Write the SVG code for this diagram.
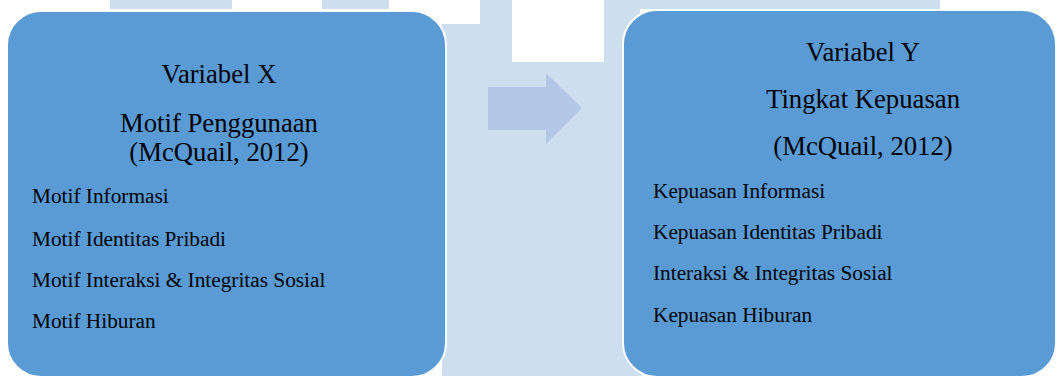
<svg xmlns="http://www.w3.org/2000/svg" width="1057" height="376" viewBox="0 0 1057 376">
  <style>
    .wm { fill: #cddfef; }
    .box { fill: #5b9bd5; stroke: #ffffff; stroke-width: 2; }
    .title { font-family: "Liberation Serif", "Times New Roman", serif; font-size: 26.7px; fill: #000000; text-anchor: middle; }
    .item { font-family: "Liberation Serif", "Times New Roman", serif; font-size: 21.3px; fill: #000000; }
    .arrow { fill: #b4c7e7; }
  </style>
  <rect width="1057" height="376" fill="#ffffff"/>
  <g id="watermark">
    <rect class="wm" x="110" y="0" width="122" height="9"/>
    <rect class="wm" x="322" y="0" width="67" height="9"/>
    <rect class="wm" x="442" y="24" width="200" height="352"/>
    <rect class="wm" x="480" y="0" width="160" height="30"/>
    <rect class="wm" x="600" y="0" width="340" height="9"/>
    <rect x="512" y="0" width="92" height="62" fill="#ffffff"/>
  </g>
  <g id="connectors">
    <polygon class="arrow" points="488,87 546,87 546,73 582,108 546,144 546,130 488,130"/>
  </g>
  <g id="node-variabel-x">
    <rect class="box" x="7" y="11" width="439" height="366" rx="34" ry="34"/>
    <text class="title" x="219" y="83">Variabel X</text>
    <text class="title" x="219" y="132">Motif Penggunaan</text>
    <text class="title" x="219" y="161">(McQuail, 2012)</text>
    <text class="item" x="32" y="203">Motif Informasi</text>
    <text class="item" x="32" y="246">Motif Identitas Pribadi</text>
    <text class="item" x="32" y="287">Motif Interaksi &amp; Integritas Sosial</text>
    <text class="item" x="32" y="328">Motif Hiburan</text>
  </g>
  <g id="node-variabel-y">
    <rect class="box" x="623" y="10" width="433" height="367" rx="34" ry="34"/>
    <text class="title" x="863" y="61">Variabel Y</text>
    <text class="title" x="863" y="108">Tingkat Kepuasan</text>
    <text class="title" x="863" y="155">(McQuail, 2012)</text>
    <text class="item" x="653" y="198">Kepuasan Informasi</text>
    <text class="item" x="653" y="239">Kepuasan Identitas Pribadi</text>
    <text class="item" x="653" y="280">Interaksi &amp; Integritas Sosial</text>
    <text class="item" x="653" y="322">Kepuasan Hiburan</text>
  </g>
</svg>
